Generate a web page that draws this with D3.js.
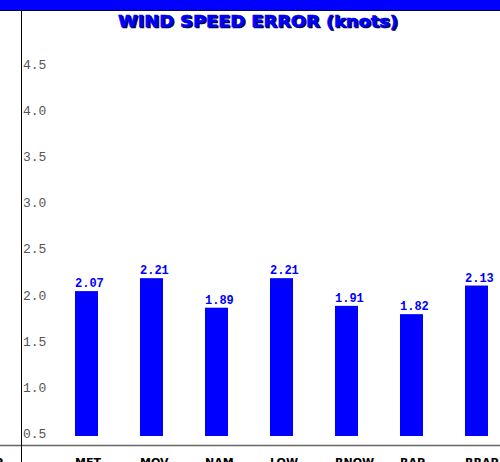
<!DOCTYPE html>
<html>
<head>
  <meta charset="utf-8">
  <style>
    body { margin: 0; background: #fff; }
    svg { display: block; }
  </style>
</head>
<body>
  <div id="chart"></div>
  <script src="https://d3js.org/d3.v7.min.js"></script>
  <script>
    // DATA
    var models = ['MET', 'MOV', 'NAM', 'LOW', 'RNOW', 'RAP', 'RRAP'];
    var errors = [2.07, 2.21, 1.89, 2.21, 1.91, 1.82, 2.13];
    var yTicks = [0.5, 1.0, 1.5, 2.0, 2.5, 3.0, 3.5, 4.0, 4.5];
    var title = 'WIND SPEED ERROR (knots)';

    var width = 500;
    var height = 462;

    var svg = d3.select('#chart')
      .append('svg')
        .attr('width', width)
        .attr('height', height);

    // value scale: 0.5 sits at the bar baseline
    var y = d3.scaleLinear()
      .domain([0.5, 4.5])
      .range([436, 66.8]);

    // 65px step, 23px bars, first bar at x=75
    var x = d3.scaleBand()
      .domain(models)
      .range([75, 75 + 65 * models.length])
      .paddingInner(42 / 65)
      .paddingOuter(21 / 65)
      .align(0);

    // top band
    svg.append('rect')
      .attr('x', 0).attr('y', 0)
      .attr('width', width).attr('height', 10)
      .style('fill', '#0000ff');
    svg.append('line')
      .attr('x1', 0).attr('x2', width)
      .attr('y1', 10.5).attr('y2', 10.5)
      .style('stroke', '#000044');

    // title with a dark shadow
    [['#000022', 1.2], ['#0000ff', 0]].forEach(function(s) {
      svg.append('text')
        .attr('x', 258 + s[1])
        .attr('y', 27 + s[1])
        .attr('text-anchor', 'middle')
        .attr('textLength', 280)
        .attr('lengthAdjust', 'spacingAndGlyphs')
        .style('font-family', '"DejaVu Sans", sans-serif')
        .style('font-weight', 'bold')
        .style('font-size', '16.5px')
        .style('fill', s[0])
        .style('stroke', s[0])
        .style('stroke-width', 0.6)
        .text(title);
    });

    // y tick labels
    svg.append('g')
      .selectAll('text')
      .data(yTicks)
      .enter()
        .append('text')
          .attr('x', 23)
          .attr('y', function(d) { return y(d) + 2; })
          .style('font-family', '"Liberation Mono", monospace')
          .style('font-size', '13px')
          .style('fill', '#555')
          .text(function(d) { return d.toFixed(1); });

    // bars
    svg.append('g')
      .selectAll('rect')
      .data(errors)
      .enter()
        .append('rect')
          .attr('x', function(d, i) { return x(models[i]); })
          .attr('y', function(d) { return y(d); })
          .attr('width', x.bandwidth())
          .attr('height', function(d) { return y(0.5) - y(d); })
          .style('fill', '#0000ff');

    // value labels
    svg.append('g')
      .selectAll('text')
      .data(errors)
      .enter()
        .append('text')
          .attr('x', function(d, i) { return x(models[i]); })
          .attr('y', function(d) { return y(d) - 4; })
          .style('font-family', '"Liberation Mono", monospace')
          .style('font-weight', 'bold')
          .style('font-size', '12px')
          .style('fill', '#0000ff')
          .text(function(d) { return d.toFixed(2); });

    // axis lines
    svg.append('line')
      .attr('x1', 0).attr('x2', width)
      .attr('y1', 445.5).attr('y2', 445.5)
      .style('stroke', '#666')
      .style('stroke-width', 1.5);
    svg.append('line')
      .attr('x1', 21.5).attr('x2', 21.5)
      .attr('y1', 11).attr('y2', height)
      .style('stroke', '#000');

    // category labels, cut by the bottom edge as in the source
    svg.append('g')
      .selectAll('text')
      .data(models)
      .enter()
        .append('text')
          .attr('x', function(d) { return x(d); })
          .attr('y', 466)
          .style('font-family', '"DejaVu Sans", sans-serif')
          .style('font-weight', 'bold')
          .style('font-size', '11px')
          .style('fill', '#000')
          .text(function(d) { return d; });

    svg.append('text')
      .attr('x', -5)
      .attr('y', 466)
      .style('font-family', '"DejaVu Sans", sans-serif')
      .style('font-weight', 'bold')
      .style('font-size', '11px')
      .text('P');
  </script>
</body>
</html>
